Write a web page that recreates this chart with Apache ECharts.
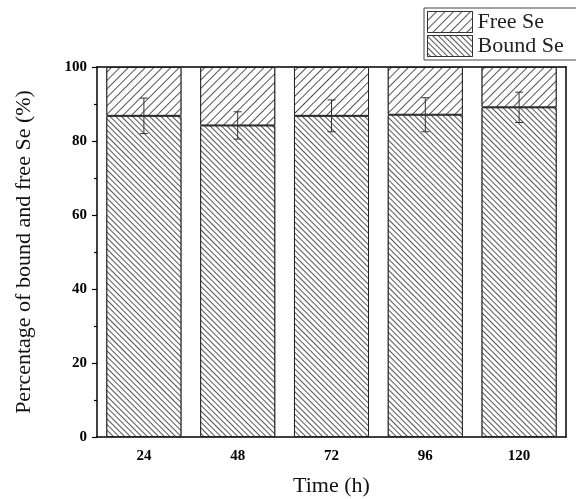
<!DOCTYPE html>
<html>
<head>
<meta charset="utf-8">
<script src="https://cdn.jsdelivr.net/npm/echarts@6/dist/echarts.min.js"></script>
<style>html,body{margin:0;padding:0;background:#fff;}#c{width:576px;height:499px;}</style>
</head>
<body>
<div id="c"></div>
<script>
const categories = ['24', '48', '72', '96', '120'];
const boundValues = [86.8, 84.2, 86.8, 87.1, 89.1];
const freeValues = [13.2, 15.8, 13.2, 12.9, 10.9];
const boundErrors = [4.8, 3.7, 4.3, 4.6, 4.1];
const yTicks = [0, 20, 40, 60, 80, 100];

const serif = 'Liberation Serif';
const chart = echarts.init(document.getElementById('c'), null, {renderer: 'canvas'});

const errData = categories.map((c, i) => [i, boundValues[i] - boundErrors[i], boundValues[i] + boundErrors[i]]);

const option = {
  backgroundColor: '#fff',
  animation: false,
  aria: {enabled: false},
  grid: {left: 97, right: 10, top: 67, bottom: 62, containLabel: false, outerBoundsMode: 'none'},
  legend: {
    data: ['Free Se', 'Bound Se'],
    orient: 'vertical',
    left: 424, top: 8,
    icon: 'rect',
    itemWidth: 45, itemHeight: 21, itemGap: 2,
    borderColor: '#444', borderWidth: 1,
    padding: [3, 30, 3, 3],
    textStyle: {fontFamily: serif, fontSize: 22, color: '#222'},
    itemStyle: {borderColor: '#333', borderWidth: 1}
  },
  xAxis: [
    {
      type: 'category', data: categories, position: 'bottom',
      axisLine: {lineStyle: {color: '#000', width: 1.5}},
      axisTick: {alignWithLabel: true, length: 5, lineStyle: {color: '#000', width: 1.2}},
      axisLabel: {fontFamily: serif, fontWeight: 'bold', fontSize: 15, color: '#000', margin: 12},
      name: 'Time (h)', nameLocation: 'middle', nameGap: 38,
      nameTextStyle: {fontFamily: serif, fontSize: 22, color: '#111'}
    },
    {
      type: 'category', data: categories, position: 'bottom',
      axisLine: {show: false},
      axisTick: {length: 3, lineStyle: {color: '#000', width: 1.2}},
      axisLabel: {show: false}
    },
    {
      type: 'category', data: categories, position: 'top',
      axisLine: {lineStyle: {color: '#000', width: 1.5}},
      axisTick: {show: false}, axisLabel: {show: false}
    }
  ],
  yAxis: [
    {
      type: 'value', min: 0, max: 100, interval: 20,
      axisLine: {show: true, lineStyle: {color: '#000', width: 1.5}},
      axisTick: {show: true, length: 5, lineStyle: {color: '#000', width: 1.2}},
      minorTick: {show: true, splitNumber: 2, length: 3, lineStyle: {color: '#000', width: 1.2}},
      splitLine: {show: false},
      axisLabel: {fontFamily: serif, fontWeight: 'bold', fontSize: 15, color: '#000', margin: 10,
        formatter: v => yTicks.includes(v) ? String(v) : ''},
      name: 'Percentage of bound and free Se (%)', nameLocation: 'middle', nameGap: 62,
      nameTextStyle: {fontFamily: serif, fontSize: 22, color: '#111'}
    },
    {
      type: 'value', min: 0, max: 100, interval: 20, position: 'right',
      axisLine: {show: true, lineStyle: {color: '#000', width: 1.5}},
      axisTick: {show: false}, axisLabel: {show: false}, splitLine: {show: false}
    }
  ],
  series: [
    {
      name: 'Bound Se', type: 'bar', stack: 'total', data: boundValues, barWidth: '80%',
      itemStyle: {
        color: '#fff', borderColor: '#222', borderWidth: 1,
        decal: {symbol: 'rect', symbolSize: 1, color: '#555', backgroundColor: '#fff',
          dashArrayX: [1, 0], dashArrayY: [1, 2.6], rotation: Math.PI / 4}
      }
    },
    {
      name: 'Free Se', type: 'bar', stack: 'total', data: freeValues, barWidth: '80%',
      itemStyle: {
        color: '#fff', borderColor: '#222', borderWidth: 1,
        decal: {symbol: 'rect', symbolSize: 1, color: '#555', backgroundColor: '#fff',
          dashArrayX: [1, 0], dashArrayY: [1, 4.3], rotation: -Math.PI / 4}
      }
    },
    {
      name: 'err', type: 'custom', data: errData, z: 10,
      renderItem: function (params, api) {
        const x = api.value(0);
        const lo = api.coord([x, api.value(1)]);
        const hi = api.coord([x, api.value(2)]);
        const w = 4;
        const style = {stroke: '#333', lineWidth: 1};
        return {
          type: 'group',
          children: [
            {type: 'line', shape: {x1: lo[0], y1: lo[1], x2: hi[0], y2: hi[1]}, style},
            {type: 'line', shape: {x1: lo[0] - w, y1: lo[1], x2: lo[0] + w, y2: lo[1]}, style},
            {type: 'line', shape: {x1: hi[0] - w, y1: hi[1], x2: hi[0] + w, y2: hi[1]}, style}
          ]
        };
      }
    }
  ]
};
chart.setOption(option);
</script>
</body>
</html>
